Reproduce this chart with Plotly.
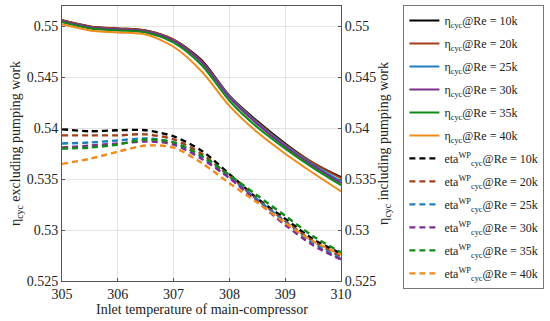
import plotly.graph_objects as go

T = [305.0, 305.5, 306.0, 306.5, 307.0, 307.5, 308.0, 308.5, 309.0, 309.5, 310.0]

re_labels = ["10k", "20k", "25k", "30k", "35k", "40k"]
colors = ["#000000", "#A3401B", "#1F7FC4", "#7E2F8E", "#108A16", "#F08A1A"]

# eta_cyc excluding pumping work (solid, left axis)
eta_10k = [0.5506, 0.5500, 0.5498, 0.5496, 0.5487, 0.5467, 0.5432, 0.5407, 0.5385, 0.5366, 0.5352]
eta_20k = [0.5506, 0.5500, 0.5498, 0.5496, 0.5487, 0.5466, 0.5432, 0.5406, 0.5384, 0.5366, 0.5351]
eta_25k = [0.5505, 0.5499, 0.5497, 0.5495, 0.5486, 0.5465, 0.5431, 0.5405, 0.5383, 0.5364, 0.5348]
eta_30k = [0.5505, 0.5499, 0.5497, 0.5495, 0.5486, 0.5465, 0.5430, 0.5404, 0.5382, 0.5363, 0.5346]
eta_35k = [0.5504, 0.5498, 0.5496, 0.5494, 0.5484, 0.5462, 0.5427, 0.5401, 0.5380, 0.5361, 0.5344]
eta_40k = [0.5502, 0.5496, 0.5494, 0.5492, 0.5480, 0.5456, 0.5422, 0.5396, 0.5375, 0.5356, 0.5338]

# eta_cyc including pumping work (dashed, right axis)
etawp_10k = [0.5399, 0.5397, 0.5398, 0.5398, 0.5392, 0.5378, 0.5355, 0.5331, 0.5311, 0.5291, 0.5277]
etawp_20k = [0.5393, 0.5393, 0.5393, 0.5394, 0.5389, 0.5375, 0.5353, 0.5330, 0.5309, 0.5289, 0.5274]
etawp_25k = [0.5385, 0.5386, 0.5388, 0.5390, 0.5386, 0.5372, 0.5352, 0.5330, 0.5308, 0.5287, 0.5272]
etawp_30k = [0.5381, 0.5383, 0.5385, 0.5387, 0.5384, 0.5370, 0.5351, 0.5328, 0.5305, 0.5285, 0.5271]
etawp_35k = [0.5380, 0.5381, 0.5384, 0.5389, 0.5386, 0.5373, 0.5354, 0.5334, 0.5314, 0.5294, 0.5278]
etawp_40k = [0.5365, 0.5370, 0.5377, 0.5383, 0.5381, 0.5366, 0.5346, 0.5327, 0.5307, 0.5289, 0.5276]

eta_all = [eta_10k, eta_20k, eta_25k, eta_30k, eta_35k, eta_40k]
etawp_all = [etawp_10k, etawp_20k, etawp_25k, etawp_30k, etawp_35k, etawp_40k]

FONT = "Liberation Serif"
TXT = "#222222"

fig = go.Figure()
for i, (lab, c, ys) in enumerate(zip(re_labels, colors, eta_all)):
    fig.add_trace(go.Scatter(
        x=T, y=ys, mode="lines", line=dict(color=c, width=2, shape="spline", smoothing=0.8),
        name="η<sub>cyc</sub>@Re = " + lab, legendgroup="s" + str(i), yaxis="y"))
for i, (lab, c, ys) in enumerate(zip(re_labels, colors, etawp_all)):
    fig.add_trace(go.Scatter(
        x=T, y=ys, mode="lines",
        line=dict(color=c, width=2.4, dash="6px,4px", shape="spline", smoothing=0.8),
        name="eta<sup>WP</sup><sub>cyc</sub>@Re = " + lab, legendgroup="d" + str(i), yaxis="y2"))

axis_common = dict(
    range=[0.525, 0.552], tickvals=[0.525, 0.53, 0.535, 0.54, 0.545, 0.55],
    ticktext=["0.525", "0.53", "0.535", "0.54", "0.545", "0.55"],
    tickfont=dict(family=FONT, size=14, color=TXT),
    ticks="inside", ticklen=3, tickcolor="#555",
    showline=True, linecolor="#555", linewidth=1,
    zeroline=False,
)

fig.update_layout(
    width=550, height=321,
    margin=dict(l=62, r=209, t=6, b=40, autoexpand=False),
    paper_bgcolor="white", plot_bgcolor="white",
    font=dict(family=FONT, size=14, color=TXT),
    xaxis=dict(
        range=[305, 310], tickvals=[305, 306, 307, 308, 309, 310],
        tickfont=dict(family=FONT, size=14, color=TXT),
        ticks="inside", ticklen=3, tickcolor="#555",
        showline=True, linecolor="#555", linewidth=1, mirror=True,
        showgrid=True, gridcolor="#E3E3E3", zeroline=False,
    ),
    yaxis=dict(
        **axis_common, showgrid=True, gridcolor="#E3E3E3",
        title=dict(text="η<sub>cyc</sub> excluding pumping work",
                   font=dict(family=FONT, size=14, color=TXT), standoff=2),
    ),
    yaxis2=dict(
        **axis_common, overlaying="y", side="right", showgrid=False,
        title=dict(text="η<sub>cyc</sub> including pumping work",
                   font=dict(family=FONT, size=14, color=TXT), standoff=0),
    ),
    legend=dict(
        x=1.729, y=1.004, xanchor="right", yanchor="top",
        bordercolor="#777", borderwidth=1, bgcolor="white",
        font=dict(family=FONT, size=12, color=TXT),
        traceorder="grouped", tracegroupgap=4, itemwidth=30, maxheight=1,
    ),
    annotations=[dict(
        text="Inlet temperature of main-compressor", xref="paper", yref="paper",
        x=0.5, y=-0.105, xanchor="center", yanchor="middle", showarrow=False,
        font=dict(family=FONT, size=14, color=TXT),
    )],
    showlegend=True,
)

fig.write_html("out.html", config={"displayModeBar": False},
               post_script="document.body.style.margin='0';")
